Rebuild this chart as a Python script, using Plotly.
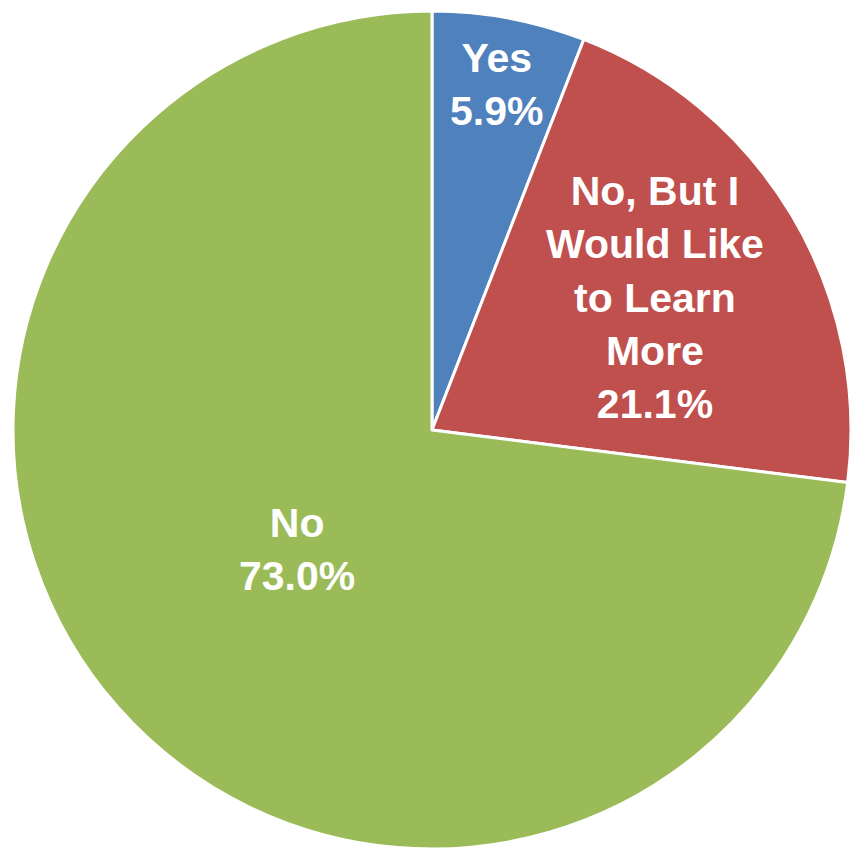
import math
import plotly.graph_objects as go

# Survey response shares (percent), clockwise from 12 o'clock
labels = ["Yes", "No, But I Would Like to Learn More", "No"]
label_text = ["Yes", "No, But I<br>Would Like<br>to Learn<br>More", "No"]
values = [5.9, 21.1, 73.0]
colors = ["#4F81BD", "#C0504D", "#9BBB59"]

# radial placement of each label, as a fraction of the pie radius
label_radius = [0.84, 0.62, 0.43]

W = H = 851
dom_x = [13 / W, 1.0]
dom_y = [1 / H, 841 / H]

fig = go.Figure(
    go.Pie(
        labels=labels,
        values=values,
        sort=False,
        direction="clockwise",
        rotation=0,
        marker=dict(colors=colors, line=dict(color="white", width=3)),
        textinfo="none",
        hoverinfo="label+percent",
        domain=dict(x=dom_x, y=dom_y),
        showlegend=False,
    )
)

# pie geometry in pixels (top-left origin)
cx = W * (dom_x[0] + dom_x[1]) / 2
cy = H - H * (dom_y[0] + dom_y[1]) / 2
R = min(W * (dom_x[1] - dom_x[0]), H * (dom_y[1] - dom_y[0])) / 2

total = sum(values)
cum = 0.0
annotations = []
for txt, v, rf in zip(label_text, values, label_radius):
    mid = (cum + v / 2) / total * 2 * math.pi
    cum += v
    px = cx + rf * R * math.sin(mid)
    py = cy - rf * R * math.cos(mid)
    annotations.append(
        dict(
            x=px / W,
            y=1 - py / H,
            xref="paper",
            yref="paper",
            text=f"{txt}<br>{v:.1f}%",
            showarrow=False,
            xanchor="center",
            yanchor="middle",
            align="center",
            font=dict(family="Liberation Sans, Arial, sans-serif", size=41, color="white"),
        )
    )

fig.update_layout(
    width=W,
    height=H,
    margin=dict(l=0, r=0, t=0, b=0),
    paper_bgcolor="white",
    plot_bgcolor="white",
    annotations=annotations,
)

# bold labels
for a in fig.layout.annotations:
    a.text = "<b>" + a.text.replace("<br>", "</b><br><b>") + "</b>"

fig.write_html("out.html")
